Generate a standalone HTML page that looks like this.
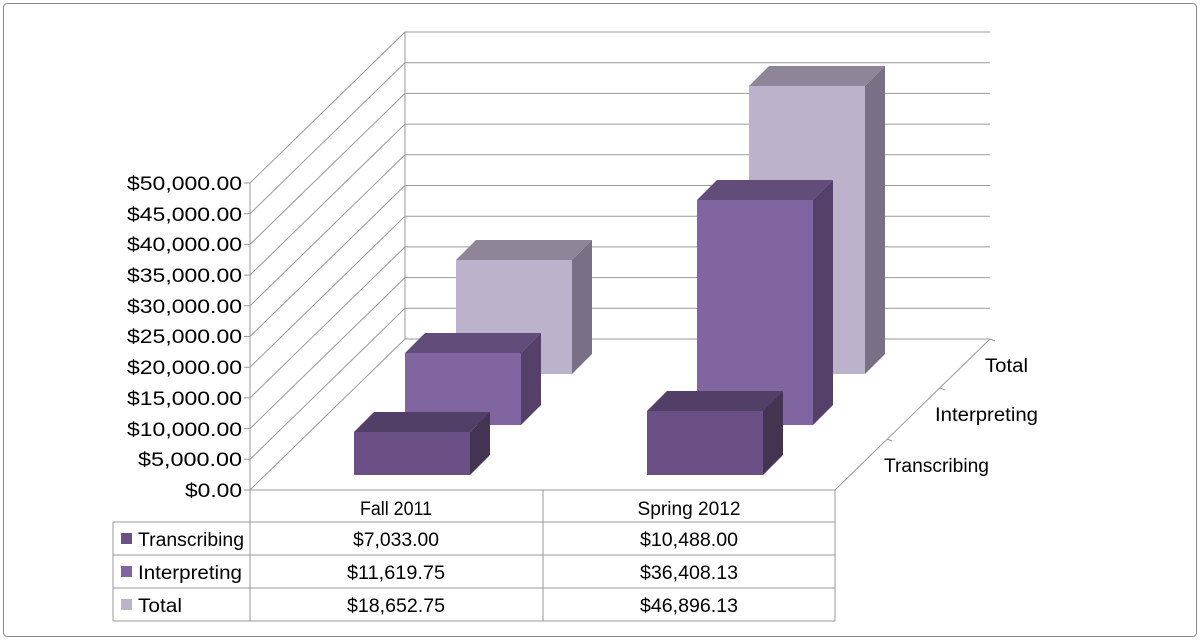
<!DOCTYPE html>
<html><head><style>body{margin:0;background:#fff}svg{display:block}text{font-family:"Liberation Sans",sans-serif;font-size:19px;fill:#000}</style></head><body>
<svg width="1200" height="640" viewBox="0 0 1200 640">
<rect x="3.5" y="3.5" width="1193" height="633" rx="4" fill="#fff" stroke="#888"/>
<g stroke="#999" stroke-width="1" fill="none">
<path d="M250,183V490H835L990,339"/>
<path d="M405,32V339"/>
<path d="M250,183L405,32H990"/><path d="M250,213.7L405,62.7H990"/><path d="M250,244.4L405,93.4H990"/><path d="M250,275.1L405,124.1H990"/><path d="M250,305.8L405,154.8H990"/><path d="M250,336.5L405,185.5H990"/><path d="M250,367.2L405,216.2H990"/><path d="M250,397.9L405,246.9H990"/><path d="M250,428.6L405,277.6H990"/><path d="M250,459.3L405,308.3H990"/><path d="M250,490L405,339H990"/>
<path d="M244,183h6M244,213.7h6M244,244.4h6M244,275.1h6M244,305.8h6M244,336.5h6M244,367.2h6M244,397.9h6M244,428.6h6M244,459.3h6M244,490h6"/>
<path d="M887,439l5,2M940,388l5,2M990,339l5,2"/>
</g>
<g text-anchor="end" lengthAdjust="spacingAndGlyphs">
<text x="242" y="190" textLength="115" lengthAdjust="spacingAndGlyphs">$50,000.00</text><text x="242" y="221" textLength="115" lengthAdjust="spacingAndGlyphs">$45,000.00</text><text x="242" y="251" textLength="115" lengthAdjust="spacingAndGlyphs">$40,000.00</text><text x="242" y="282" textLength="115" lengthAdjust="spacingAndGlyphs">$35,000.00</text><text x="242" y="313" textLength="115" lengthAdjust="spacingAndGlyphs">$30,000.00</text><text x="242" y="343" textLength="115" lengthAdjust="spacingAndGlyphs">$25,000.00</text><text x="242" y="374" textLength="115" lengthAdjust="spacingAndGlyphs">$20,000.00</text><text x="242" y="405" textLength="115" lengthAdjust="spacingAndGlyphs">$15,000.00</text><text x="242" y="436" textLength="115" lengthAdjust="spacingAndGlyphs">$10,000.00</text><text x="242" y="466" textLength="104" lengthAdjust="spacingAndGlyphs">$5,000.00</text><text x="242" y="497" textLength="57" lengthAdjust="spacingAndGlyphs">$0.00</text>
</g>
<text x="985" y="372" textLength="43" lengthAdjust="spacingAndGlyphs">Total</text><text x="935" y="421" textLength="103" lengthAdjust="spacingAndGlyphs">Interpreting</text><text x="884" y="472" textLength="105" lengthAdjust="spacingAndGlyphs">Transcribing</text>
<g>
<polygon points="456,260 476,240 592,240 572,260" fill="#8e8598"/><polygon points="572,260 592,240 592,354 572,374" fill="#7a7085"/><rect x="456" y="260" width="116" height="114" fill="#bcb2cc"/>
<polygon points="749,86 769,66 885,66 865,86" fill="#8e8598"/><polygon points="865,86 885,66 885,354 865,374" fill="#7a7085"/><rect x="749" y="86" width="116" height="288" fill="#bcb2cc"/>
<polygon points="405,353 425,333 541,333 521,353" fill="#624c7a"/><polygon points="521,353 541,333 541,405 521,425" fill="#544068"/><rect x="405" y="353" width="116" height="72" fill="#8165a0"/>
<polygon points="697,200 717,180 833,180 813,200" fill="#624c7a"/><polygon points="813,200 833,180 833,405 813,425" fill="#544068"/><rect x="697" y="200" width="116" height="225" fill="#8165a0"/>
<polygon points="354,432 374,412 490,412 470,432" fill="#523f68"/><polygon points="470,432 490,412 490,455 470,475" fill="#433452"/><rect x="354" y="432" width="116" height="43" fill="#6b5085"/>
<polygon points="647,411 667,391 783,391 763,411" fill="#523f68"/><polygon points="763,411 783,391 783,455 763,475" fill="#433452"/><rect x="647" y="411" width="116" height="64" fill="#6b5085"/>
</g>
<g stroke="#999" fill="none">
<path d="M250,490V621M543,490V621M835,490V621M113,522V621M113,522H835M113,555H835M113,588H835M113,621H835"/>
</g>
<g text-anchor="middle">
<text x="396" y="515" textLength="72" lengthAdjust="spacingAndGlyphs">Fall 2011</text><text x="689" y="515" textLength="103" lengthAdjust="spacingAndGlyphs">Spring 2012</text>
<text x="396" y="546" textLength="86" lengthAdjust="spacingAndGlyphs">$7,033.00</text><text x="689" y="546" textLength="98" lengthAdjust="spacingAndGlyphs">$10,488.00</text>
<text x="396" y="579" textLength="98" lengthAdjust="spacingAndGlyphs">$11,619.75</text><text x="689" y="579" textLength="98" lengthAdjust="spacingAndGlyphs">$36,408.13</text>
<text x="396" y="612" textLength="98" lengthAdjust="spacingAndGlyphs">$18,652.75</text><text x="689" y="612" textLength="98" lengthAdjust="spacingAndGlyphs">$46,896.13</text>
</g>
<rect x="121" y="533" width="11" height="11" fill="#6b5085"/><text x="138" y="546" textLength="106" lengthAdjust="spacingAndGlyphs">Transcribing</text>
<rect x="121" y="566" width="11" height="11" fill="#8165a0"/><text x="138" y="579" textLength="104" lengthAdjust="spacingAndGlyphs">Interpreting</text>
<rect x="121" y="599" width="11" height="11" fill="#bcb2cc"/><text x="138" y="612" textLength="44" lengthAdjust="spacingAndGlyphs">Total</text>
</svg>
</body></html>
